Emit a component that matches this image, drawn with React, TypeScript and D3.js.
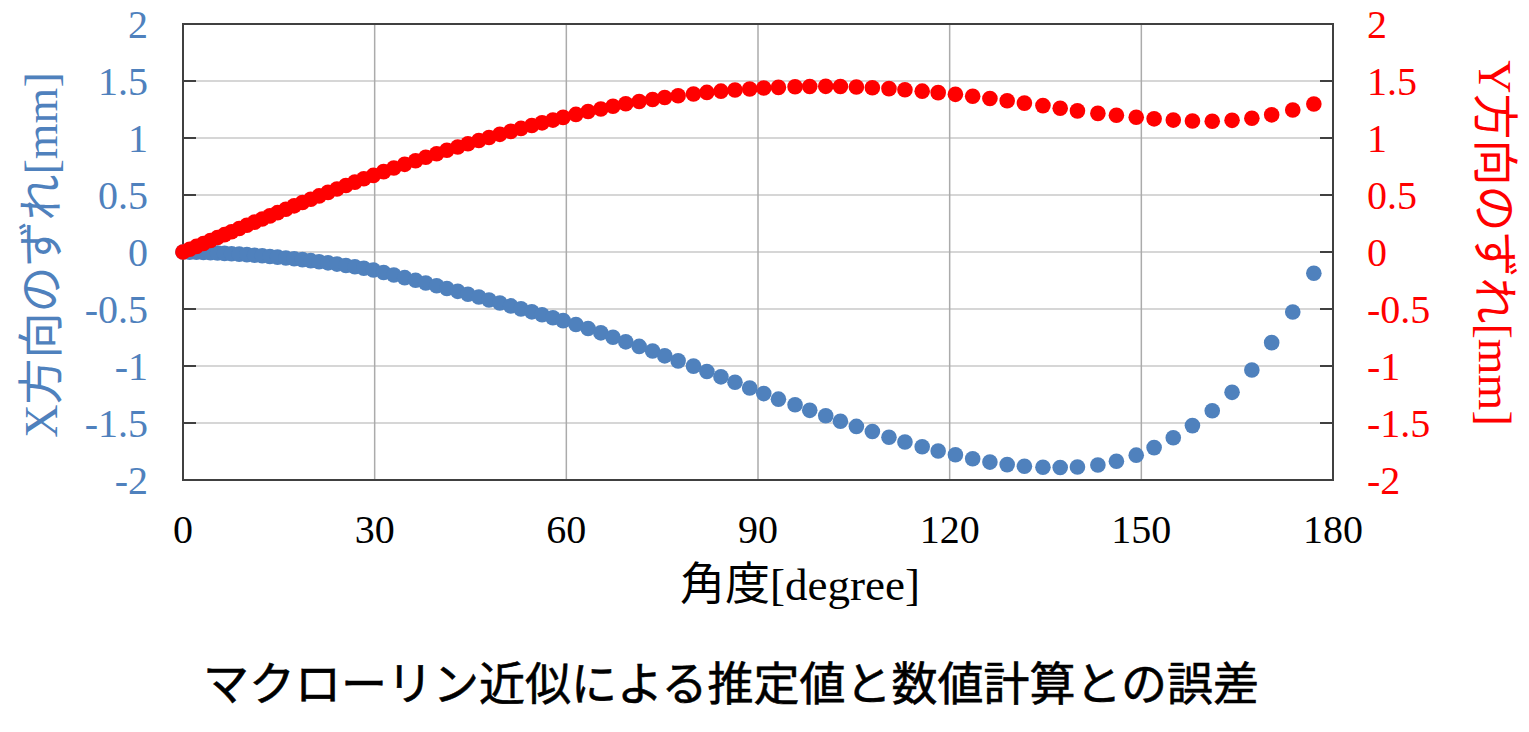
import * as React from 'react';
import * as d3 from 'd3';

// angle [degree]
const angle = [
  0, 1.05, 2.1, 3.2, 4.3, 5.4, 6.5, 7.6, 8.8, 10.0, 11.2, 12.4, 13.6, 14.8, 16.1, 17.4, 18.7, 20.0, 21.3, 22.7, 24.1, 25.5, 26.9, 28.3, 29.8,
  31.4, 33.0, 34.7, 36.4, 38.0, 39.7, 41.3, 43.0, 44.6, 46.3, 47.9, 49.6, 51.3, 52.9, 54.6, 56.2, 57.9, 59.5,
  61.5, 63.4, 65.4, 67.3, 69.3, 71.4, 73.5, 75.4, 77.5, 79.9, 82.0, 84.2, 86.4, 88.7, 90.9, 93.2, 95.8, 98.1, 100.6, 102.9,
  105.4, 107.9, 110.5, 113.0, 115.7, 118.2, 120.9, 123.6, 126.3, 129.0, 131.7, 134.6, 137.3, 140.0,
  143.2, 146.1, 149.2, 152.0, 155.0, 158.0, 161.1, 164.2, 167.3, 170.4, 173.7, 177.0,
];

// X方向のずれ [mm] (left axis)
const xShift = [
  0, -0.001, -0.002, -0.004, -0.006, -0.009, -0.012, -0.015, -0.019, -0.023, -0.028, -0.033, -0.039, -0.045, -0.052, -0.059, -0.067, -0.076, -0.085, -0.095, -0.106, -0.118, -0.130, -0.143, -0.158,
  -0.180, -0.202, -0.225, -0.248, -0.272, -0.296, -0.320, -0.345, -0.370, -0.395, -0.421, -0.447, -0.473, -0.499, -0.525, -0.551, -0.577, -0.602,
  -0.636, -0.671, -0.709, -0.748, -0.788, -0.828, -0.869, -0.911, -0.955, -1.001, -1.048, -1.095, -1.143, -1.193, -1.242, -1.291, -1.340, -1.389,
  -1.437, -1.485, -1.530, -1.574, -1.625, -1.667, -1.708, -1.745, -1.778, -1.813, -1.843, -1.865, -1.880, -1.888, -1.890, -1.886,
  -1.868, -1.835, -1.782, -1.716, -1.629, -1.523, -1.392, -1.231, -1.035, -0.795, -0.526, -0.187,
];

// Y方向のずれ [mm] (right axis)
const yShift = [
  0, 0.024, 0.049, 0.075, 0.101, 0.127, 0.152, 0.178, 0.206, 0.234, 0.262, 0.290, 0.317, 0.345, 0.375, 0.405, 0.434, 0.463, 0.492, 0.523, 0.553, 0.583, 0.613, 0.642, 0.672,
  0.705, 0.737, 0.769, 0.800, 0.831, 0.862, 0.892, 0.921, 0.950, 0.978, 1.005, 1.032, 1.058, 1.084, 1.109, 1.133, 1.157, 1.181,
  1.207, 1.232, 1.255, 1.278, 1.300, 1.320, 1.338, 1.355, 1.370, 1.386, 1.400, 1.411, 1.421, 1.430, 1.438, 1.444, 1.449, 1.452, 1.453, 1.452,
  1.447, 1.441, 1.433, 1.423, 1.411, 1.398, 1.383, 1.366, 1.347, 1.327, 1.306, 1.284, 1.261, 1.238,
  1.216, 1.199, 1.182, 1.168, 1.157, 1.149, 1.147, 1.155, 1.173, 1.203, 1.246, 1.298,
];

const xTicks = [0, 30, 60, 90, 120, 150, 180];
const yTicks = [-2, -1.5, -1, -0.5, 0, 0.5, 1, 1.5, 2];

const title = 'マクローリン近似による推定値と数値計算との誤差';
const xLabel = '角度[degree]';
const yLeftLabel = 'X方向のずれ[mm]';
const yRightLabel = 'Y方向のずれ[mm]';

const BLUE = '#4F81BD';
const RED = '#FF0000';
const serif = "'Liberation Serif', 'Noto Sans CJK JP', serif";
const gothic = "'Noto Sans CJK JP', sans-serif";

export default function App() {
  const width = 1529, height = 732;
  const left = 183, right = 1333, top = 24, bottom = 480;

  const x = d3.scaleLinear().domain([0, 180]).range([left, right]);
  const yL = d3.scaleLinear().domain([-2, 2]).range([bottom, top]);
  const yR = d3.scaleLinear().domain([-2, 2]).range([bottom, top]);
  const fmt = (v: number) => String(v);

  return (
    <svg width={width} height={height} style={{ position: 'absolute', left: 0, top: 0, background: '#fff' }}>
      {/* grid */}
      {yTicks.map(t => (
        <line key={'hg' + t} x1={left} x2={right} y1={yL(t)} y2={yL(t)} stroke="#C8C8C8" strokeWidth={1.5} />
      ))}
      {xTicks.map(t => (
        <line key={'vg' + t} x1={x(t)} x2={x(t)} y1={top} y2={bottom} stroke="#ABABAB" strokeWidth={1.5} />
      ))}

      {/* inside ticks on both y axes */}
      {yTicks.map(t => (
        <g key={'tk' + t}>
          <line x1={left} x2={left + 13} y1={yL(t)} y2={yL(t)} stroke="#404040" strokeWidth={2} />
          <line x1={right - 13} x2={right} y1={yR(t)} y2={yR(t)} stroke="#404040" strokeWidth={2} />
        </g>
      ))}

      <rect x={left} y={top} width={right - left} height={bottom - top} fill="none" stroke="#404040" strokeWidth={2} />

      {/* series */}
      <g fill={BLUE}>
        {angle.map((a, i) => (
          <circle key={'b' + i} cx={x(a)} cy={yL(xShift[i])} r={7.8} />
        ))}
      </g>
      <g fill={RED}>
        {angle.map((a, i) => (
          <circle key={'r' + i} cx={x(a)} cy={yR(yShift[i])} r={7.8} />
        ))}
      </g>

      {/* tick labels */}
      <g fontFamily={serif} fontSize={40}>
        {yTicks.map(t => (
          <text key={'ll' + t} x={148} y={yL(t)} dy="0.35em" textAnchor="end" fill={BLUE}>{fmt(t)}</text>
        ))}
        {yTicks.map(t => (
          <text key={'rl' + t} x={1367} y={yR(t)} dy="0.35em" textAnchor="start" fill={RED}>{fmt(t)}</text>
        ))}
        {xTicks.map(t => (
          <text key={'xl' + t} x={x(t)} y={543} textAnchor="middle" fill="#000">{fmt(t)}</text>
        ))}
      </g>

      {/* axis titles */}
      <text x={800} y={600} textAnchor="middle" fontFamily={serif} fontSize={45} fill="#000">{xLabel}</text>
      <text transform="translate(41,255) rotate(-90)" textAnchor="middle" dy="0.35em" fontFamily={serif} fontSize={46} fill={BLUE}>{yLeftLabel}</text>
      <text transform="translate(1495,243) rotate(90)" textAnchor="middle" dy="0.35em" fontFamily={serif} fontSize={46} fill={RED}>{yRightLabel}</text>

      {/* caption */}
      <text x={731} y={700} textAnchor="middle" fontFamily={gothic} fontSize={46} fill="#000" stroke="#000" strokeWidth={0.6}>{title}</text>
    </svg>
  );
}
